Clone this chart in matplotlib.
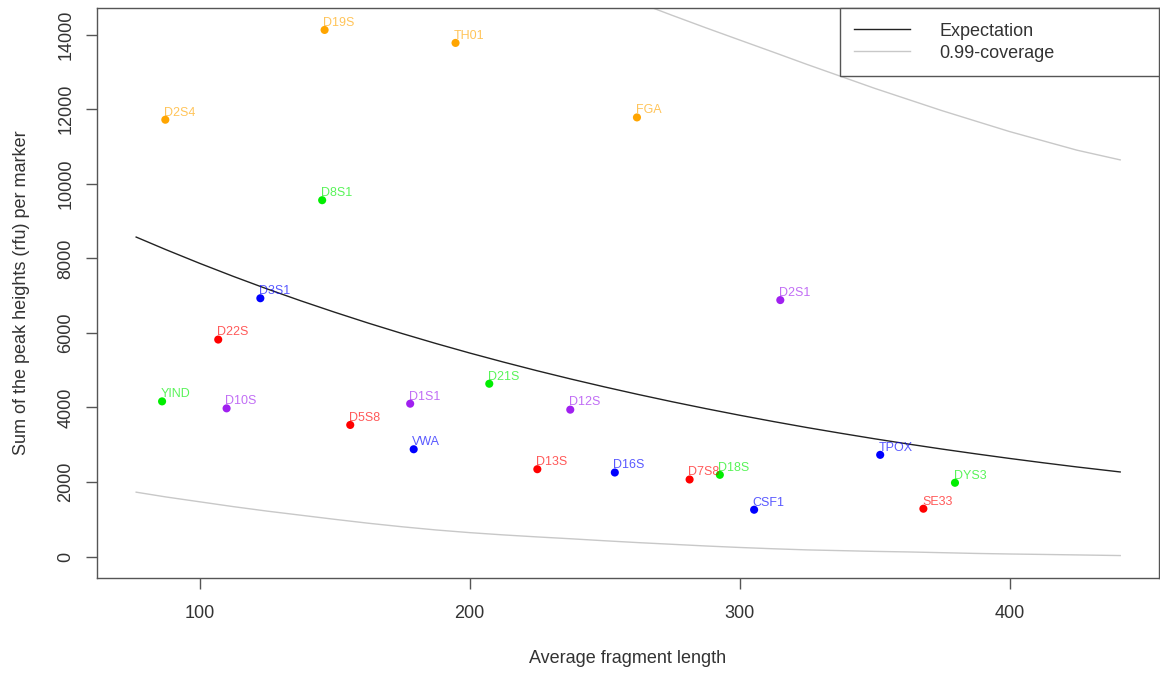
import matplotlib
matplotlib.use('Agg')
import matplotlib.pyplot as plt

plt.rcParams['font.family'] = ['Liberation Sans', 'DejaVu Sans']

# markers: average fragment length, summed peak height, dye colour
markers = ['D19S', 'TH01', 'D2S4', 'FGA',
           'D8S1', 'YIND', 'D21S', 'D18S', 'DYS3',
           'D3S1', 'VWA', 'D16S', 'CSF1', 'TPOX',
           'D22S', 'D5S8', 'D13S', 'D7S8', 'SE33',
           'D2S1', 'D10S', 'D1S1', 'D12S']
frag_len = [146.3, 194.8, 87.3, 262.0,
            145.4, 86.1, 207.3, 292.7, 379.8,
            122.5, 179.3, 253.8, 305.4, 352.1,
            106.9, 155.8, 225.1, 281.5, 368.1,
            315.1, 110.0, 178.0, 237.3]
peak_sum = [14125, 13777, 11717, 11779,
            9559, 4163, 4636, 2193, 1980,
            6929, 2879, 2255, 1257, 2729,
            5821, 3531, 2344, 2068, 1284,
            6880, 3976, 4101, 3941]
dye = ['orange'] * 4 + ['green'] * 5 + ['blue'] * 5 + ['red'] * 5 + ['purple'] * 4

dye_colors = {'orange': '#FFA500', 'green': '#00EE00', 'blue': '#0000FF',
              'red': '#FF0000', 'purple': '#A020F0'}

# curves
curve_x = [76.5, 87.5, 100, 112.5, 125, 137.5, 150, 162.5, 175, 187.5, 200, 212.5,
           225, 237.5, 250, 262.5, 275, 287.5, 300, 312.5, 325, 337.5, 350, 362.5,
           375, 387.5, 400, 412.5, 425, 441]
expect_y = [8570, 8233, 7866, 7515, 7179, 6860, 6555, 6262, 5983, 5716, 5461, 5218,
            4985, 4763, 4551, 4348, 4154, 3969, 3792, 3623, 3461, 3308, 3160, 3019,
            2884, 2756, 2633, 2516, 2404, 2270]
lower_y = [1728, 1600, 1470, 1340, 1220, 1110, 1000, 895, 800, 715, 643, 582,
           528, 478, 425, 375, 330, 285, 245, 210, 180, 160, 140, 125,
           105, 85, 70, 58, 45, 28]
upper_x = [250, 262.5, 275, 287.5, 300, 312.5, 325, 337.5, 350, 362.5, 375, 387.5,
           400, 412.5, 425, 441]
upper_y = [15212, 14861, 14518, 14183, 13856, 13530, 13200, 12880, 12560, 12260, 11960, 11680,
           11400, 11150, 10900, 10640]

txt = '#333333'
axc = '#555555'

fig = plt.figure(figsize=(11.6, 6.73), dpi=100)
ax = fig.add_axes([0.0834, 0.1416, 0.9158, 0.8461])

ax.plot(curve_x, expect_y, color='#222222', lw=1.0, label='Expectation')
ax.plot(upper_x, upper_y, color='#c8c8c8', lw=1.0, label='0.99-coverage')
ax.plot(curve_x, lower_y, color='#c8c8c8', lw=1.0)

cols = [dye_colors[d] for d in dye]
ax.scatter(frag_len, peak_sum, s=34, c=cols, zorder=3, linewidths=0)
for name, x, y, c in zip(markers, frag_len, peak_sum, cols):
    ax.annotate(name, (x, y), xytext=(-1, 3), textcoords='offset points',
                fontsize=9, color=c, alpha=0.65, ha='left', va='baseline')

ax.set_xlim(61.9, 455.4)
ax.set_ylim(-566, 14706)
ax.set_xticks([100, 200, 300, 400])
ax.set_yticks([0, 2000, 4000, 6000, 8000, 10000, 12000, 14000])

for s in ax.spines.values():
    s.set_color(axc)
    s.set_linewidth(1.0)
ax.tick_params(length=8, width=1, color=axc, labelcolor=txt, labelsize=13)
ax.tick_params(axis='x', pad=12)
ax.tick_params(axis='y', pad=8)
plt.setp(ax.get_yticklabels(), rotation=90, va='center')

ax.set_xlabel('Average fragment length', fontsize=13, color=txt, labelpad=20)
ax.set_ylabel('Sum of the peak heights (rfu) per marker', fontsize=13, color=txt, labelpad=20)

leg = ax.legend(loc='upper left', bbox_to_anchor=(0.6997, 0.8811, 0.3003, 0.1189),
                mode='expand', borderaxespad=0, fancybox=False, framealpha=1,
                edgecolor=axc, fontsize=13, handlelength=3.1, handletextpad=1.6,
                labelspacing=0.27, borderpad=0.8)
leg.get_frame().set_linewidth(1.0)
for t in leg.get_texts():
    t.set_color(txt)

fig.savefig('out.png', dpi=100)
